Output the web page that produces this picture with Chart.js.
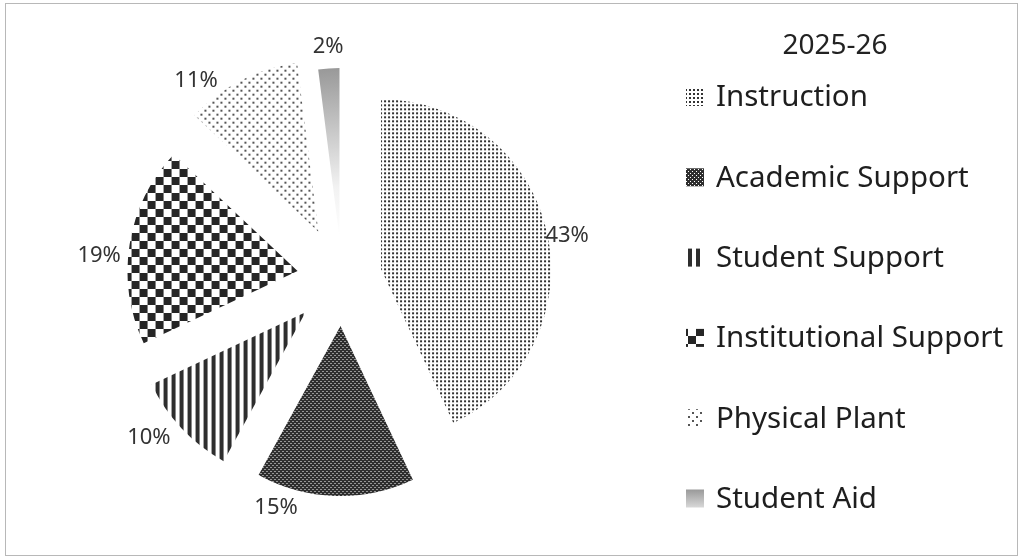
<!DOCTYPE html>
<html>
<head>
<meta charset="utf-8">
<script src="https://cdn.jsdelivr.net/npm/chart.js@4.4.0/dist/chart.umd.min.js"></script>
<style>
html, body { margin: 0; padding: 0; background: #ffffff; }
canvas { display: block; }
</style>
</head>
<body>
<canvas id="chart" width="1022" height="557"></canvas>
<script>
// ---- data ----
const legendTitle = '2025-26';
const categories = ['Instruction', 'Academic Support', 'Student Support', 'Institutional Support', 'Physical Plant', 'Student Aid'];
const shares = [43, 15, 10, 19, 11, 2];
const shareLabels = shares.map(v => v + '%');

// ---- fill patterns ----
function makePattern(w, h, paint) {
  const c = document.createElement('canvas');
  c.width = w; c.height = h;
  const x = c.getContext('2d');
  x.fillStyle = '#ffffff';
  x.fillRect(0, 0, w, h);
  paint(x);
  return x.createPattern(c, 'repeat');
}
const fills = [
  makePattern(4, 4, x => { x.fillStyle = '#333'; x.fillRect(1, 1, 2, 2); }),
  makePattern(4, 4, x => {
    x.fillStyle = '#2e2e2e'; x.fillRect(0, 0, 4, 4);
    x.fillStyle = '#ffffff'; x.fillRect(2, 1, 1, 1); x.fillRect(0, 3, 1, 1);
  }),
  makePattern(8, 2, x => { x.fillStyle = '#2e2e2e'; x.fillRect(0, 0, 4, 2); }),
  makePattern(16, 16, x => { x.fillStyle = '#262626'; x.fillRect(0, 0, 8, 8); x.fillRect(8, 8, 8, 8); }),
  makePattern(8, 8, x => { x.fillStyle = '#555'; x.fillRect(0, 0, 2, 2); x.fillRect(4, 4, 2, 2); }),
  null
];
const PIE_RADIUS = 170;
function aidFill(ctx) {
  const a = ctx.chart.chartArea;
  if (!a) return '#aaaaaa';
  const cx = (a.left + a.right) / 2, cy = (a.top + a.bottom) / 2;
  const g = ctx.chart.ctx.createRadialGradient(cx, cy, 0, cx, cy, PIE_RADIUS);
  g.addColorStop(0, '#ffffff');
  g.addColorStop(0.3, '#f2f2f2');
  g.addColorStop(1, '#999999');
  return g;
}

// ---- plugins ----
const frame = {
  id: 'frame',
  beforeDraw(chart) {
    const c = chart.ctx;
    c.save();
    c.fillStyle = '#fff';
    c.fillRect(0, 0, chart.width, chart.height);
    c.strokeStyle = '#b8b8b8';
    c.lineWidth = 1;
    c.strokeRect(5.5, 3.5, 1012, 552);
    c.restore();
  }
};

const explode = {
  id: 'explode',
  beforeDatasetsDraw(chart, args, opts) {
    const meta = chart.getDatasetMeta(0);
    const c = chart.ctx;
    meta.data.forEach((arc, i) => {
      const mid = (arc.startAngle + arc.endAngle) / 2;
      const d = opts.distances[i];
      c.save();
      c.translate(Math.cos(mid) * d, Math.sin(mid) * d);
      arc.draw(c, chart.chartArea);
      c.restore();
    });
    return false;
  },
  afterDraw(chart, args, opts) {
    const meta = chart.getDatasetMeta(0);
    const c = chart.ctx;
    c.save();
    c.font = '22px "Noto Sans"';
    c.fillStyle = '#333';
    c.textAlign = 'center';
    c.textBaseline = 'middle';
    meta.data.forEach((arc, i) => {
      const mid = (arc.startAngle + arc.endAngle) / 2;
      const d = opts.distances[i];
      const ax = arc.x + Math.cos(mid) * d, ay = arc.y + Math.sin(mid) * d;
      const ang = opts.labelAngles[i] * Math.PI / 180;
      const dist = opts.labelDistances[i];
      c.fillText(shareLabels[i], ax + dist * Math.sin(ang), ay - dist * Math.cos(ang));
    });
    c.restore();
  }
};

const sideLegend = {
  id: 'sideLegend',
  afterDraw(chart, args, opts) {
    const c = chart.ctx;
    c.save();
    c.fillStyle = '#222';
    c.textBaseline = 'middle';
    c.textAlign = 'center';
    c.font = '28px "Noto Sans"';
    c.fillText(legendTitle, opts.titleX, opts.titleY);
    c.textAlign = 'left';
    c.font = '29.5px "Noto Sans"';
    chart.data.labels.forEach((lab, i) => {
      const y = opts.firstY + i * opts.step;
      let f = fills[i];
      if (!f) {
        const g = c.createLinearGradient(0, y - 9, 0, y + 9);
        g.addColorStop(0, '#999'); g.addColorStop(1, '#d8d8d8');
        f = g;
      }
      c.fillStyle = f;
      c.fillRect(opts.boxX, y - 9, 18, 18);
      c.fillStyle = '#1e1e1e';
      c.fillText(lab, opts.textX, y + 1);
    });
    c.restore();
  }
};

new Chart(document.getElementById('chart'), {
  type: 'pie',
  data: {
    labels: categories,
    datasets: [{
      data: shares,
      backgroundColor: ctx => (fills[ctx.dataIndex] || aidFill(ctx)),
      borderWidth: 0
    }]
  },
  options: {
    responsive: false,
    animation: false,
    events: [],
    radius: PIE_RADIUS,
    layout: { padding: { left: 0, right: 338, top: 0, bottom: 1 } },
    plugins: {
      legend: { display: false },
      tooltip: { enabled: false },
      explode: {
        distances: [40, 48, 50, 45, 52, 40],
        labelAngles: [79.9, 199.5, 231.2, 274.3, 320.9, 356.6],
        labelDistances: [189, 193, 201, 199, 194, 192]
      },
      sideLegend: { titleX: 835, titleY: 46, boxX: 686, textX: 716, firstY: 97, step: 80.3 }
    }
  },
  plugins: [frame, explode, sideLegend]
});
</script>
</body>
</html>
